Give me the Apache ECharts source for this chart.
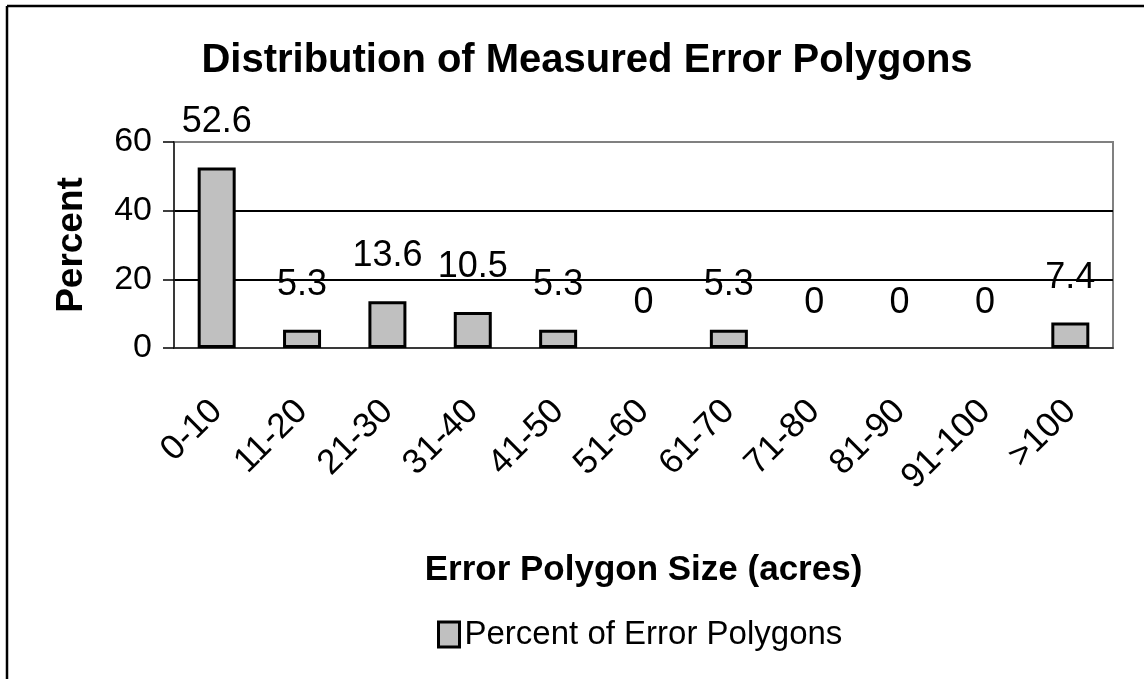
<!DOCTYPE html>
<html>
<head>
<meta charset="utf-8">
<script src="https://cdn.jsdelivr.net/npm/echarts@6/dist/echarts.min.js"></script>
<style>
  html, body { margin: 0; padding: 0; background: #fff; }
  #chart { width: 1144px; height: 679px; }
</style>
</head>
<body>
<div id="chart"></div>
<script>
// size classes (acres)
var categories = ['0-10', '11-20', '21-30', '31-40', '41-50', '51-60', '61-70', '71-80', '81-90', '91-100', '>100'];
// percent of error polygons per class
var percents = [52.6, 5.3, 13.6, 10.5, 5.3, 0, 5.3, 0, 0, 0, 7.4];
var yTicks = { min: 0, max: 60, interval: 20 };

var FONT = "'Liberation Sans', Arial, sans-serif";

var myChart = echarts.init(document.getElementById('chart'));
myChart.setOption({
  backgroundColor: '#fff',
  animation: false,
  title: {
    text: 'Distribution of Measured Error Polygons',
    left: 582,
    textAlign: 'center',
    top: 36,
    textStyle: { fontFamily: FONT, fontSize: 40, fontWeight: 'bold', color: '#000' }
  },
  grid: {
    left: 174,
    right: 31,
    top: 142,
    bottom: 331,
    show: true,
    borderColor: '#808080',
    borderWidth: 2,
    backgroundColor: '#fff'
  },
  legend: {
    data: ['Percent of Error Polygons'],
    left: 437,
    top: 618,
    padding: 0,
    icon: 'rect',
    itemWidth: 21,
    itemHeight: 25,
    itemGap: 10,
    itemStyle: { color: '#c0c0c0', borderColor: '#000', borderWidth: 3 },
    textStyle: { fontFamily: FONT, fontSize: 33, color: '#000' }
  },
  xAxis: {
    type: 'category',
    data: categories,
    name: 'Error Polygon Size (acres)',
    nameLocation: 'middle',
    nameGap: 205,
    nameTextStyle: { fontFamily: FONT, fontSize: 35, fontWeight: 'bold', color: '#000' },
    axisLine: { lineStyle: { color: '#222', width: 1.5 } },
    axisTick: { length: 10, lineStyle: { color: '#000', width: 1.5 } },
    axisLabel: { rotate: 45, margin: 58, fontFamily: FONT, fontSize: 35, color: '#000', interval: 0 }
  },
  yAxis: {
    type: 'value',
    min: yTicks.min,
    max: yTicks.max,
    interval: yTicks.interval,
    name: 'Percent',
    nameLocation: 'middle',
    nameRotate: 90,
    nameGap: 84,
    nameTextStyle: { fontFamily: FONT, fontSize: 37, fontWeight: 'bold', color: '#000' },
    axisLine: { show: true, lineStyle: { color: '#222', width: 1.5 } },
    axisTick: { show: true, length: 11, lineStyle: { color: '#000', width: 1.5 } },
    axisLabel: { margin: 22, fontFamily: FONT, fontSize: 34, color: '#000' },
    splitLine: { show: true, showMinLine: false, showMaxLine: false, lineStyle: { color: '#000', width: 2 } }
  },
  series: [{
    name: 'Percent of Error Polygons',
    type: 'bar',
    data: percents.map(function (v) {
      return v === 0 ? { value: v, itemStyle: { borderWidth: 0 } } : v;
    }),
    barWidth: 38,
    itemStyle: { color: '#c0c0c0', borderColor: '#000', borderWidth: 3 },
    label: {
      show: true,
      position: 'top',
      distance: 27,
      fontFamily: FONT,
      fontSize: 36,
      color: '#000'
    }
  }],
  graphic: [
    { type: 'line', shape: { x1: 7, y1: 6, x2: 1144, y2: 6 }, style: { stroke: '#000', lineWidth: 2.5 } },
    { type: 'line', shape: { x1: 7, y1: 6, x2: 7, y2: 679 }, style: { stroke: '#000', lineWidth: 2.5 } }
  ]
});
</script>
</body>
</html>
